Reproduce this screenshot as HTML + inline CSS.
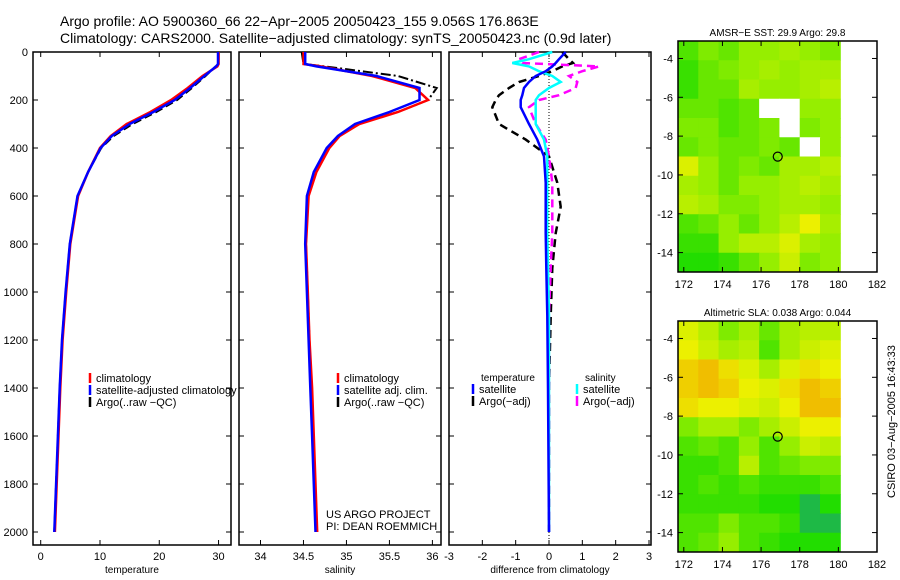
<!DOCTYPE html>
<html><head><meta charset="utf-8">
<style>
body{margin:0;background:#fff;}
svg{display:block;font-family:"Liberation Sans",sans-serif;}
text{fill:#000;}
</style></head>
<body>
<svg id="fig" width="900" height="580">
<text x="60" y="26" font-size="14">Argo profile: AO 5900360_66 22−Apr−2005 20050423_155 9.056S 176.863E</text>
<text x="60" y="43" font-size="14">Climatology: CARS2000. Satellite−adjusted climatology: synTS_20050423.nc (0.9d later)</text>
</svg>
<script>
const depthT=[0,50,60,100,150,200,250,300,350,400,500,600,800,1000,1200,1400,1600,1800,2000];
const tempClim=[30,30,29.8,27.3,24.8,22,18.5,14.5,11.8,10,8,6.3,5,4.3,3.7,3.3,3.0,2.7,2.4];
const tempSat=[29.9,29.9,29.6,27.6,25.2,22.6,19,15,12,10.1,8,6.2,4.9,4.2,3.6,3.2,2.9,2.6,2.3];
const tempArgo=[30,30,29.5,27.8,25.5,23,19.5,15.5,12.3,10.2,8,6.2,4.9,4.2,3.6,3.2,2.9,2.6,2.3];
const salClim=[34.5,34.5,34.7,35.3,35.8,35.95,35.6,35.15,34.92,34.8,34.65,34.56,34.53,34.55,34.57,34.6,34.62,34.64,34.66];
const salSat=[34.52,34.52,34.65,35.35,35.85,35.85,35.5,35.1,34.9,34.77,34.62,34.54,34.52,34.54,34.56,34.58,34.6,34.62,34.64];
const salArgo=[34.48,34.5,34.75,35.6,36.05,35.95,35.6,35.1,34.9,34.78,34.63,34.55,34.53,34.55,34.57,34.59,34.61,34.63,34.65];
const depthD=[0,30,46,60,80,100,125,150,180,200,230,300,365,435,545,645,755,900,1100,1400,2000];
const dTempSat=[0.5,0.3,0.2,0.1,-0.1,-0.4,-0.6,-0.75,-0.8,-0.85,-0.85,-0.6,-0.35,-0.15,-0.1,-0.1,-0.1,-0.08,-0.05,-0.03,0];
const dSalSat=[0.1,-0.6,-1.1,-0.6,-0.3,0.1,0.35,0.0,-0.3,-0.4,-0.4,-0.4,-0.15,-0.05,-0.05,-0.05,-0.05,-0.03,0,0,0];
const dTempArgo=[0.4,0.6,0.72,0.4,0.1,-0.3,-0.9,-1.2,-1.5,-1.6,-1.7,-1.5,-0.7,0,0.25,0.35,0.2,0.1,0.05,0,0];
const dSalArgo=[-0.3,-0.9,-0.8,1.5,1.0,0.6,0.85,0.8,0.3,-0.3,-0.6,-0.4,-0.1,0,0.1,0.1,0.1,0.05,0,0,0];
const depthTicks=[0,200,400,600,800,1000,1200,1400,1600,1800,2000];
const tempTicks=[0,10,20,30];
const salTicks=[34,34.5,35,35.5,36];
const diffTicks=[-3,-2,-1,0,1,2,3];
const lonTicks=[172,174,176,178,180,182];
const latTicks=[-4,-6,-8,-10,-12,-14];
const sstGrid=[
[0.2,0.4,0.3,0.5,0.5,0.6,0.5,0.4],
[0.1,0.3,0.4,0.5,0.6,0.5,0.6,0.6],
[0.1,0.3,0.3,0.6,0.5,0.5,0.6,0.7],
[0.3,0.3,0.2,0.3,-1,-1,0.5,0.5],
[0.4,0.4,0.2,0.3,0.4,-1,0.4,0.5],
[0.3,0.4,0.3,0.3,0.4,0.3,-1,0.5],
[0.9,0.5,0.3,0.4,0.3,0.6,0.6,0.7],
[0.6,0.5,0.3,0.5,0.5,0.6,0.7,0.6],
[0.7,0.6,0.4,0.4,0.5,0.6,0.6,0.5],
[0.2,0.3,0.5,0.3,0.5,0.7,1.0,0.6],
[0.1,0.1,0.5,0.7,0.7,0.9,0.6,0.5],
[0.0,0.0,0.1,0.3,0.5,0.8,0.4,0.5]];
const slaGrid=[
[0.9,0.7,0.4,0.6,0.3,0.6,0.7,0.7],
[1.0,0.8,0.6,0.7,0.2,0.6,0.8,0.9],
[1.2,1.3,1.1,0.9,0.6,0.9,1.1,1.0],
[1.2,1.3,1.2,1.0,0.9,1.1,1.3,1.2],
[1.1,1.0,1.0,0.9,0.8,1.0,1.3,1.3],
[0.4,0.6,0.6,0.4,0.6,0.8,1.0,1.0],
[0.2,0.3,0.2,0.5,0.2,0.5,0.8,0.7],
[0.1,0.1,0.2,0.7,0.2,0.3,0.4,0.4],
[0.1,0.2,0.1,0.2,0.1,0.1,0.1,0.2],
[0.1,0.1,0.1,0.1,0.0,0.0,-0.1,0.0],
[0.2,0.2,0.4,0.2,0.2,0.1,-0.1,-0.1],
[0.2,0.3,0.5,0.2,0.1,0.0,0.0,0.0]];
const floatLon=176.863, floatLat=-9.056;

const NS='http://www.w3.org/2000/svg';
const svg=document.getElementById('fig');
function mk(tag,attrs,parent){const e=document.createElementNS(NS,tag);for(const k in attrs)e.setAttribute(k,attrs[k]);(parent||svg).appendChild(e);return e;}
const yD=d=>52+d*0.24;

function panel(name,x0,x1,xmin,xmax,xticks,xlabel,fmt){
  const g=mk('g',{});
  
  
  const sx=v=>x0+(v-xmin)/(xmax-xmin)*(x1-x0);
  const r=mk('rect',{x:x0,y:52,width:x1-x0,height:493,fill:'none',stroke:'#000','stroke-width':1.5},g);
  
  
  xticks.forEach(t=>{const X=sx(t);
    mk('line',{x1:X,y1:545,x2:X,y2:540,stroke:'#000'},g);
    mk('line',{x1:X,y1:52,x2:X,y2:57,stroke:'#000'},g);
    const tx=mk('text',{x:X,y:560,'font-size':11,'text-anchor':'middle'},g);tx.textContent=fmt(t);
    
    });
  depthTicks.forEach(d=>{const Y=yD(d);
    mk('line',{x1:x0,y1:Y,x2:x0+5,y2:Y,stroke:'#000'},g);
    mk('line',{x1:x1,y1:Y,x2:x1-5,y2:Y,stroke:'#000'},g);});
  const xl=mk('text',{x:(x0+x1)/2,y:573,'font-size':10,'text-anchor':'middle'},g);xl.textContent=xlabel;
  
  
  return {g,sx};
}
function line(p,depths,vals,color,dash,w,name){
  const pts=depths.map((d,i)=>p.sx(vals[i]).toFixed(1)+','+yD(d).toFixed(1)).join(' ');
  const l=mk('polyline',{points:pts,fill:'none',stroke:color,'stroke-width':w||2.5,'stroke-dasharray':dash||'none'},p.g);
  
  
}
function txt(x,y,s,size,name,anchor){const t=mk('text',{x:x,y:y,'font-size':size||11,'text-anchor':anchor||'start'});t.textContent=s;
  
  return t;}
function key(x,y,color,label,name){const l=mk('line',{x1:x,y1:y-9,x2:x,y2:y+1,stroke:color,'stroke-width':2.5});
  
  
  txt(x+6,y,label,11,name);}

depthTicks.forEach(d=>txt(28,yD(d)+4,String(d),11,'y-tick-label','end'));

const p1=panel('temperature-panel',33,231,-1.3,32.1,tempTicks,'temperature',v=>String(v));
line(p1,depthT,tempArgo,'#000','8,4',2,'argo-temperature-line');
line(p1,depthT,tempClim,'#f00',null,2.5,'climatology-temperature-line');
line(p1,depthT,tempSat,'#00f',null,2.5,'satellite-temperature-line');
key(90,382,'#f00','climatology','legend-climatology');
key(90,394,'#00f','satellite-adjusted climatology','legend-satellite');
key(90,406,'#000','Argo(..raw −QC)','legend-argo');

const p2=panel('salinity-panel',239,441,33.75,36.1,salTicks,'salinity',v=>String(v));
line(p2,depthT,salArgo,'#000','10,3,2,3',2,'argo-salinity-line');
line(p2,depthT,salClim,'#f00',null,2.5,'climatology-salinity-line');
line(p2,depthT,salSat,'#00f',null,2.5,'satellite-salinity-line');
key(338,382,'#f00','climatology','legend-sal-climatology');
key(338,394,'#00f','satellite adj. clim.','legend-sal-satellite');
key(338,406,'#000','Argo(..raw −QC)','legend-sal-argo');
txt(326,518,'US ARGO PROJECT',11,'project-credit');
txt(326,530,'PI: DEAN ROEMMICH',11,'pi-credit');

const p3=panel('difference-panel',449,651,-3,3.06,diffTicks,'difference from climatology',v=>String(v));
const z=mk('line',{x1:p3.sx(0),y1:52,x2:p3.sx(0),y2:545,stroke:'#000','stroke-dasharray':'1,2'},p3.g);


line(p3,depthD,dTempArgo,'#000','8,5',2.5,'argo-temp-diff-line');
line(p3,depthD,dSalArgo,'#f0f','8,5',2.5,'argo-sal-diff-line');
line(p3,depthD,dSalSat,'#0ff',null,2.5,'satellite-sal-diff-line');
line(p3,depthD,dTempSat,'#00f',null,2.5,'satellite-temp-diff-line');
txt(481,381,'temperature',10,'legend-temperature-head');
txt(585,381,'salinity',10,'legend-salinity-head');
key(473,393,'#00f','satellite','legend-diff-temp-sat');
key(473,405,'#000','Argo(−adj)','legend-diff-temp-argo');
key(577,393,'#0ff','satellite','legend-diff-sal-sat');
key(577,405,'#f0f','Argo(−adj)','legend-diff-sal-argo');

function col(v){
  if(v<-0.5)return '#ffffff';
  const stops=[[-0.1,[30,185,70]],[0,[34,221,0]],[0.5,[150,238,0]],[1,[236,240,0]],[1.3,[240,190,0]]];
  if(v<=stops[0][0])return 'rgb(30,185,70)';
  for(let i=1;i<stops.length;i++){if(v<=stops[i][0]){const a=stops[i-1],b=stops[i],t=(v-a[0])/(b[0]-a[0]);
    const c=a[1].map((q,j)=>Math.round(q+(b[1][j]-q)*t));return 'rgb('+c+')';}}
  return 'rgb(240,190,0)';
}
function map(name,top,grid,title){
  const g=mk('g',{});
  
  
  const L=678,R=877,B=top+231;
  const sx=lon=>L+(lon-171.7)/(182-171.7)*(R-L);
  const sy=lat=>top+(-3.1-lat)/(15-3.1)*(B-top);
  const cw=(180.1-171.7)/grid[0].length, ch=(15-3.1)/grid.length;
  grid.forEach((row,i)=>row.forEach((v,j)=>{
    const x=sx(171.7+j*cw), y=sy(-3.1-i*ch);
    const c=mk('rect',{x:x,y:y,width:sx(171.7+(j+1)*cw)-x+0.5,height:sy(-3.1-(i+1)*ch)-y+0.5,fill:col(v)},g);
    
    
  }));
  const f=mk('rect',{x:L,y:top,width:R-L,height:B-top,fill:'none',stroke:'#000','stroke-width':1.5},g);
  
  
  lonTicks.forEach(t=>{const X=sx(t);mk('line',{x1:X,y1:B,x2:X,y2:B-5,stroke:'#000'},g);mk('line',{x1:X,y1:top,x2:X,y2:top+5,stroke:'#000'},g);
    const tx=mk('text',{x:X,y:B+16,'font-size':11,'text-anchor':'middle'},g);tx.textContent=String(t);
    
    });
  latTicks.forEach(t=>{const Y=sy(t);mk('line',{x1:L,y1:Y,x2:L+5,y2:Y,stroke:'#000'},g);mk('line',{x1:R,y1:Y,x2:R-5,y2:Y,stroke:'#000'},g);
    const tx=mk('text',{x:L-5,y:Y+4,'font-size':11,'text-anchor':'end'},g);tx.textContent=String(t);
    
    });
  const c=mk('circle',{cx:sx(floatLon),cy:sy(floatLat),r:4.5,fill:'none',stroke:'#000','stroke-width':1.2},g);
  
  
  const t=mk('text',{x:(L+R)/2,y:top-5,'font-size':10,'text-anchor':'middle'},g);t.textContent=title;
  
  
}
map('sst-map',41,sstGrid,'AMSR−E SST: 29.9 Argo: 29.8');
map('sla-map',321,slaGrid,'Altimetric SLA: 0.038 Argo: 0.044');
const stamp=txt(0,0,'CSIRO 03−Aug−2005 16:43:33',11,'timestamp');
stamp.setAttribute('transform','translate(895,498) rotate(-90)');
</script>
</body></html>
